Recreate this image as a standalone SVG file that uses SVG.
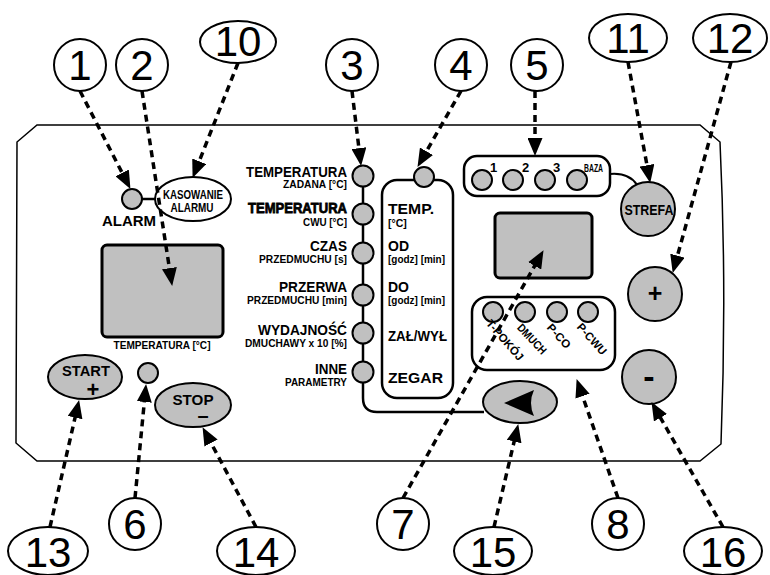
<svg xmlns="http://www.w3.org/2000/svg" width="770" height="575" viewBox="0 0 770 575">
<style>
.pn{fill:none;stroke:#000;stroke-width:1.5}
.g{fill:#c0c0c0;stroke:#000;stroke-width:2}
.disp{fill:#c0c0c0;stroke:#000;stroke-width:3}
.box{fill:none;stroke:#000;stroke-width:2.5}
.co{fill:#fff;stroke:#000;stroke-width:2}
.cn{font-family:"Liberation Sans",Arial,sans-serif;font-size:42px;text-anchor:middle}
.t{font-family:"Liberation Sans",Arial,sans-serif;font-weight:bold}
.b14{font-size:15px}
.b10{font-size:10.5px}
.e{text-anchor:end}
.m{text-anchor:middle}
.ld{fill:none;stroke:#000;stroke-width:3.5;stroke-dasharray:7 5;marker-end:url(#ah)}
</style>
<defs>
<marker id="ah" markerUnits="userSpaceOnUse" markerWidth="18" markerHeight="15" viewBox="0 0 18 15" refX="9" refY="7.5" orient="auto"><path d="M0,0 L18,7.5 L0,15 Z" fill="#000"/></marker>
</defs>
<rect width="770" height="575" fill="#fff"/>
<g id="panel"><path class="pn" d="M37,125 H700 L720,142 Q727,290 721,444 L700,461 H37 L16,443 L17,142 Z"/></g>

<g id="alarm"><path d="M142,199 H156" stroke="#000" stroke-width="2.5"/><circle class="g" cx="132" cy="199" r="10"/><text class="t" x="129" y="226" font-size="15" text-anchor="middle">ALARM</text></g>
<g id="kasowanie"><ellipse cx="193" cy="199" rx="38" ry="22" fill="#fff" stroke="#000" stroke-width="2"/><text class="t m" x="193" y="198.5" font-size="12" textLength="60" lengthAdjust="spacingAndGlyphs">KASOWANIE</text><text class="t m" x="192" y="212" font-size="12" textLength="43" lengthAdjust="spacingAndGlyphs">ALARMU</text></g>
<g id="display-left"><rect class="disp" x="102" y="245" width="121" height="92" rx="5"/><text class="t m b10" x="162" y="349" textLength="97" lengthAdjust="spacingAndGlyphs">TEMPERATURA [°C]</text></g>
<g id="start"><ellipse class="g" cx="85" cy="377" rx="37" ry="22"/><text class="t m" x="86" y="376" font-size="15" textLength="48" lengthAdjust="spacingAndGlyphs">START</text><text class="t m" x="93" y="397" font-size="22">+</text></g>
<g id="led6"><circle class="g" cx="148" cy="373" r="10"/></g>
<g id="stop"><ellipse class="g" cx="193" cy="405" rx="38" ry="22"/><text class="t m" x="193" y="405" font-size="15" textLength="41" lengthAdjust="spacingAndGlyphs">STOP</text><text class="t m" x="203" y="422" font-size="20">–</text></g>

<g id="menu-left">
<path d="M363,176 V398 Q363,412 377,412 H484" fill="none" stroke="#000" stroke-width="2.5"/>
<circle class="g" cx="363" cy="176" r="10.5"/><circle class="g" cx="363" cy="214" r="10.5"/><circle class="g" cx="363" cy="253" r="10.5"/><circle class="g" cx="363" cy="295" r="10.5"/><circle class="g" cx="363" cy="333" r="10.5"/><circle class="g" cx="363" cy="372" r="10.5"/>
<text class="t e b14" x="347" y="177" textLength="101" lengthAdjust="spacingAndGlyphs">TEMPERATURA</text>
<text class="t e b10" x="347" y="187.5" textLength="64" lengthAdjust="spacingAndGlyphs">ZADANA [°C]</text>
<text class="t e b14" x="347" y="213" textLength="99" lengthAdjust="spacingAndGlyphs" stroke="#000" stroke-width="0.8">TEMPERATURA</text>
<text class="t e b10" x="347" y="225.5" textLength="44" lengthAdjust="spacingAndGlyphs">CWU [°C]</text>
<text class="t e b14" x="347" y="251" textLength="37" lengthAdjust="spacingAndGlyphs">CZAS</text>
<text class="t e b10" x="347" y="262.5" textLength="88" lengthAdjust="spacingAndGlyphs">PRZEDMUCHU [s]</text>
<text class="t e b14" x="347" y="292" textLength="68" lengthAdjust="spacingAndGlyphs">PRZERWA</text>
<text class="t e b10" x="347" y="304" textLength="100" lengthAdjust="spacingAndGlyphs">PRZEDMUCHU [min]</text>
<text class="t e b14" x="347" y="335" textLength="89" lengthAdjust="spacingAndGlyphs">WYDAJNOŚĆ</text>
<text class="t e b10" x="347" y="346.5" textLength="102" lengthAdjust="spacingAndGlyphs">DMUCHAWY x 10 [%]</text>
<text class="t e b14" x="347" y="374" textLength="32" lengthAdjust="spacingAndGlyphs">INNE</text>
<text class="t e b10" x="347" y="386" textLength="62" lengthAdjust="spacingAndGlyphs">PARAMETRY</text>
</g>

<g id="menu-right">
<rect class="box" x="382" y="180" width="71" height="218" rx="15"/>
<circle class="g" cx="424" cy="177" r="10"/>
<text class="t b14" x="388" y="214" textLength="46" lengthAdjust="spacingAndGlyphs">TEMP.</text>
<text class="t b10" x="388" y="226.5">[°C]</text>
<text class="t b14" x="388" y="251" textLength="21" lengthAdjust="spacingAndGlyphs">OD</text>
<text class="t b10" x="388" y="263" textLength="57" lengthAdjust="spacingAndGlyphs">[godz] [min]</text>
<text class="t b14" x="388" y="292" textLength="21" lengthAdjust="spacingAndGlyphs">DO</text>
<text class="t b10" x="388" y="304" textLength="57" lengthAdjust="spacingAndGlyphs">[godz] [min]</text>
<text class="t b14" x="388" y="341" textLength="59" lengthAdjust="spacingAndGlyphs">ZAŁ/WYŁ</text>
<text class="t b14" x="388" y="383" textLength="55" lengthAdjust="spacingAndGlyphs">ZEGAR</text>
</g>

<g id="zone">
<rect class="box" x="464" y="156" width="146" height="40" rx="13"/>
<circle class="g" cx="482" cy="180" r="10"/><circle class="g" cx="513" cy="180" r="10"/><circle class="g" cx="545" cy="180" r="10"/><circle class="g" cx="577" cy="180" r="10"/>
<text class="t" x="490" y="172" font-size="13">1</text>
<text class="t" x="522" y="172" font-size="13">2</text>
<text class="t" x="553" y="172" font-size="13">3</text>
<text class="t" x="584" y="172" font-size="10" textLength="19" lengthAdjust="spacingAndGlyphs">BAZA</text>
</g>
<g id="strefa"><path d="M610,174 C622,173 632,177 637,185" fill="none" stroke="#000" stroke-width="2"/><circle class="g" cx="648" cy="209" r="27"/><text class="t m" x="649" y="215" font-size="15" textLength="49" lengthAdjust="spacingAndGlyphs">STREFA</text></g>
<g id="display-mid"><rect class="disp" x="495" y="213" width="97" height="65" rx="5"/></g>
<g id="status">
<rect class="box" x="472" y="297" width="143" height="73" rx="15"/>
<circle class="g" cx="493" cy="312" r="10"/><circle class="g" cx="525" cy="312" r="10"/><circle class="g" cx="557" cy="312" r="10"/><circle class="g" cx="588" cy="312" r="10"/>
<text class="t m" font-size="11.5" dominant-baseline="central" transform="translate(505,340) rotate(49)" textLength="50" lengthAdjust="spacingAndGlyphs">T-POKÓJ</text>
<text class="t m" font-size="11.5" dominant-baseline="central" transform="translate(532,339) rotate(47)" textLength="37" lengthAdjust="spacingAndGlyphs">DMUCH</text>
<text class="t m" font-size="11.5" dominant-baseline="central" transform="translate(559,336) rotate(48)" textLength="29" lengthAdjust="spacingAndGlyphs">P-CO</text>
<text class="t m" font-size="11.5" dominant-baseline="central" transform="translate(592,339) rotate(48)" textLength="38" lengthAdjust="spacingAndGlyphs">P-CWU</text>
</g>
<g id="plus"><circle class="g" cx="655" cy="294" r="27"/><text class="t m" x="655" y="302" font-size="25">+</text></g>
<g id="minus"><circle class="g" cx="649" cy="377" r="27"/><text class="t m" x="649" y="388" font-size="34">-</text></g>
<g id="back"><ellipse class="g" cx="520" cy="402" rx="37" ry="21"/><path d="M504,403 L534,390 Q528,403 534,416 Z" fill="#000"/></g>

<g id="callouts">
<g id="c1"><circle class="co" cx="80" cy="65" r="26"/><text class="cn" x="80" y="80">1</text></g>
<g id="c2"><circle class="co" cx="142" cy="65" r="26"/><text class="cn" x="142" y="80">2</text></g>
<g id="c10"><ellipse class="co" cx="238" cy="42" rx="38" ry="21"/><text class="cn" x="238" y="56">10</text></g>
<g id="c3"><circle class="co" cx="352" cy="65" r="26"/><text class="cn" x="352" y="80">3</text></g>
<g id="c4"><circle class="co" cx="461" cy="65" r="26"/><text class="cn" x="461" y="80">4</text></g>
<g id="c5"><circle class="co" cx="537" cy="65" r="26"/><text class="cn" x="537" y="80">5</text></g>
<g id="c11"><ellipse class="co" cx="628" cy="38" rx="39" ry="24"/><text class="cn" x="628" y="53">11</text></g>
<g id="c12"><ellipse class="co" cx="730" cy="38" rx="37" ry="24"/><text class="cn" x="730" y="53">12</text></g>
<g id="c13"><ellipse class="co" cx="48" cy="551" rx="40" ry="24"/><text class="cn" x="48" y="567">13</text></g>
<g id="c6"><circle class="co" cx="135" cy="524" r="26"/><text class="cn" x="135" y="539">6</text></g>
<g id="c14"><ellipse class="co" cx="256" cy="551" rx="39" ry="24"/><text class="cn" x="256" y="567">14</text></g>
<g id="c7"><circle class="co" cx="403" cy="524" r="26"/><text class="cn" x="403" y="539">7</text></g>
<g id="c15"><ellipse class="co" cx="493" cy="551" rx="39" ry="24"/><text class="cn" x="493" y="567">15</text></g>
<g id="c8"><circle class="co" cx="618" cy="524" r="26"/><text class="cn" x="618" y="539">8</text></g>
<g id="c16"><ellipse class="co" cx="723" cy="551" rx="39" ry="24"/><text class="cn" x="723" y="567">16</text></g>
</g>

<g id="connectors">
<path class="ld" d="M80,91 L126.3,180.9"/>
<path class="ld" d="M142,91 L170.8,277.1"/>
<path class="ld" d="M238,63 L195.9,169.6"/>
<path class="ld" d="M352,91 L360,157.1"/>
<path class="ld" d="M461,91 L422,159.1"/>
<path class="ld" d="M535,91 L535,147"/>
<path class="ld" d="M628,62 L648.6,174.1"/>
<path class="ld" d="M731,62 L675.1,264.3"/>
<path class="ld" d="M403,498 L539.1,258"/>
<path class="ld" d="M494,527 L516.2,432.8"/>
<path class="ld" d="M618,498 L579.6,387.6"/>
<path class="ld" d="M723,527 L656,409.9"/>
<path class="ld" d="M50,527 L77.1,408.8"/>
<path class="ld" d="M135,498 L145.2,393"/>
<path class="ld" d="M256,527 L206.8,435.1"/>
</g>
</svg>
